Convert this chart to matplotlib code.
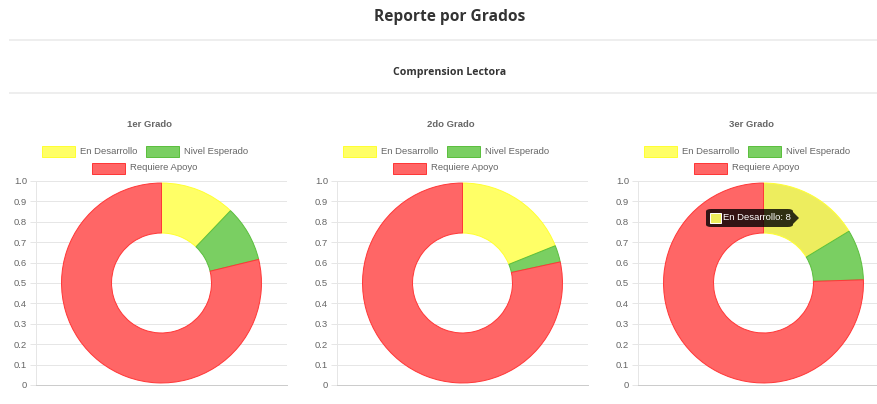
import matplotlib
matplotlib.use("Agg")
import matplotlib.pyplot as plt
from matplotlib.patches import Rectangle, FancyBboxPatch, Polygon

# Tamaño del lienzo en pixeles
W, H = 878, 404

titulo = "Reporte por Grados"
subtitulo = "Comprension Lectora"
grados = ["1er Grado", "2do Grado", "3er Grado"]
niveles = ["En Desarrollo", "Nivel Esperado", "Requiere Apoyo"]
grado1 = [4, 3, 26]
grado2 = [7, 1, 29]
grado3 = [8, 4, 37]
valores = [grado1, grado2, grado3]
y_ticks = [0, 0.1, 0.2, 0.3, 0.4, 0.5, 0.6, 0.7, 0.8, 0.9, 1.0]
y_etiquetas = ["0", "0.1", "0.2", "0.3", "0.4", "0.5", "0.6", "0.7", "0.8", "0.9", "1.0"]

relleno = ["#ffff66", "#7acf62", "#ff6666"]
borde = ["#ffff33", "#5cbf3f", "#ff3838"]
relleno_hover = "#eded5e"
gris_texto = "#666666"

PT = 0.72  # pixeles -> puntos a 100 dpi


def fx(x):
    return x / W


def fy(y):
    return 1 - y / H


fig = plt.figure(figsize=(W / 100, H / 100), dpi=100)
fig.patch.set_facecolor("white")
renderer = fig.canvas.get_renderer()

# Encabezado de la página
fig.text(fx(450), fy(21), titulo, family="Open Sans", weight="bold",
         fontsize=15.5 * PT, color="#333333", ha="center", va="baseline")
fig.text(fx(450), fy(72), subtitulo, family="Open Sans", weight="bold",
         fontsize=10.5 * PT, color="#333333", ha="center", va="center")
for yl in (40, 93):
    fig.add_artist(plt.Line2D([fx(10), fx(890)], [fy(yl), fy(yl)],
                              color="#eeeeee", lw=2 * PT))

for i, (grado, vals) in enumerate(zip(grados, valores)):
    off = 301 * i
    centro = 149.5 + off

    # Título de cada gráfico
    fig.text(fx(centro), fy(124.5), grado, family="Liberation Sans", weight="bold",
             fontsize=9.5 * PT, color=gris_texto, ha="center", va="center")

    # Leyenda en dos filas, centrada sobre el lienzo del gráfico
    filas = [([0, 1], 151), ([2], 168)]
    caja_w, caja_h, sep, pad = 33, 11, 5, 9
    for items, yc in filas:
        textos = []
        ancho = 0
        for k in items:
            t = fig.text(0, fy(yc), niveles[k], family="Liberation Sans",
                         fontsize=9.5 * PT, color=gris_texto, ha="left", va="center")
            tw = t.get_window_extent(renderer=renderer).width
            textos.append((k, t, tw))
            ancho += caja_w + sep + tw + pad
        x = centro - ancho / 2
        for k, t, tw in textos:
            fig.add_artist(Rectangle((fx(x), fy(yc + caja_h / 2)), caja_w / W, caja_h / H,
                                     facecolor=relleno[k], edgecolor=borde[k], lw=1 * PT,
                                     transform=fig.transFigure))
            t.set_x(fx(x + caja_w + sep))
            x += caja_w + sep + tw + pad

    # Área del gráfico con su eje Y
    izq, arriba, ancho_ax, alto_ax = 36 + off, 181, 251, 204
    ax = fig.add_axes([fx(izq), fy(arriba + alto_ax), ancho_ax / W, alto_ax / H])
    xmax = ancho_ax / alto_ax
    colores = list(relleno)
    if i == 2:
        colores[0] = relleno_hover
    cunas, _ = ax.pie(vals, colors=colores, startangle=90, counterclock=False,
                      radius=0.49, center=(xmax / 2, 0.5), frame=True,
                      wedgeprops=dict(width=0.245, lw=1 * PT))
    for cuna, c in zip(cunas, borde):
        cuna.set_edgecolor(c)
        cuna.set_zorder(3)
    ax.set_aspect("auto")
    ax.set_xlim(0, xmax)
    ax.set_ylim(0, 1)
    ax.set_yticks(y_ticks)
    ax.set_yticklabels(y_etiquetas, family="Liberation Sans", fontsize=9.5 * PT,
                       color=gris_texto)
    ax.set_xticks([])
    ax.tick_params(axis="y", length=6 * PT, width=1 * PT, color="#e6e6e6", pad=3 * PT)
    ax.set_axisbelow(True)
    ax.grid(axis="y", color="#e6e6e6", lw=1 * PT)
    ax.spines["top"].set_visible(False)
    ax.spines["right"].set_visible(False)
    ax.spines["left"].set_color("#e6e6e6")
    ax.spines["left"].set_linewidth(1 * PT)
    ax.spines["bottom"].set_color("#cccccc")
    ax.spines["bottom"].set_linewidth(1 * PT)

# Tooltip del segmento activo en el tercer gráfico
tx0, tx1, ty0, ty1 = 706, 793, 209, 227
fig.add_artist(FancyBboxPatch((fx(tx0), fy(ty1)), (tx1 - tx0) / W, (ty1 - ty0) / H,
                              boxstyle="round,pad=0,rounding_size=0.006",
                              facecolor=(0, 0, 0, 0.8), edgecolor="none",
                              transform=fig.transFigure, zorder=10))
fig.add_artist(Polygon([(fx(tx1), fy(212)), (fx(tx1 + 6), fy(218)), (fx(tx1), fy(224))],
                       closed=True, facecolor=(0, 0, 0, 0.8), edgecolor="none",
                       transform=fig.transFigure, zorder=10))
fig.add_artist(Rectangle((fx(710), fy(223)), 11 / W, 10 / H, facecolor=relleno_hover,
                         edgecolor="white", lw=1 * PT, transform=fig.transFigure, zorder=11))
fig.text(fx(723), fy(218), f"{niveles[0]}: {grado3[0]}", family="Liberation Sans",
         fontsize=9.5 * PT, color="white", ha="left", va="center", zorder=12)

fig.savefig("out.png", dpi=100, facecolor="white")
